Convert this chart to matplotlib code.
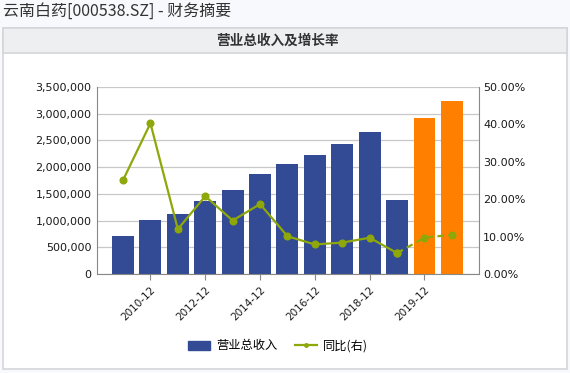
#!/usr/bin/env python3
"""云南白药 营业总收入及增长率 -> out.png"""
import matplotlib
matplotlib.use("Agg")
import matplotlib.pyplot as plt
from matplotlib.patches import Rectangle
from matplotlib.lines import Line2D
from matplotlib.ticker import FuncFormatter
import numpy as np

plt.rcParams["font.family"] = ["DejaVu Sans", "Noto Sans CJK SC"]
CJK = ["Noto Sans CJK SC", "DejaVu Sans"]

periods = ["2009-12", "2010-12", "2011-12", "2012-12", "2013-12", "2014-12", "2015-12",
           "2016-12", "2017-12", "2018-12", "2019-09", "2019-12", "2020-12"]
revenue = [717000, 1010000, 1123000, 1366000, 1578000, 1872000, 2059000,
           2227000, 2433000, 2658000, 1385000, 2920000, 3238000]
growth = [25.1, 40.3, 12.0, 20.8, 14.3, 18.7, 10.1, 7.9, 8.4, 9.7, 5.6, 9.7, 10.5]
forecast = [False] * 11 + [True] * 2
tick_idx = [1, 3, 5, 7, 9, 11]

BLUE = "#334a94"; ORANGE = "#ff8000"; GREEN = "#8ea70a"; GRID = "#c8c8c8"; TXT = "#1a1a1a"

W, H = 570, 373
fig = plt.figure(figsize=(W / 100, H / 100), dpi=100)
fig.patch.set_facecolor("#f7f9fc")

# panel + header band
fig.patches.append(Rectangle((2.5 / W, (H - 369) / H), 564 / W, 341 / H, transform=fig.transFigure,
                             facecolor="white", edgecolor="#d4d6da", lw=1.2, zorder=-2))
fig.patches.append(Rectangle((2.5 / W, (H - 53) / H), 564 / W, 25 / H, transform=fig.transFigure,
                             facecolor="#eeeff1", edgecolor="#d4d6da", lw=1.2, zorder=-1))
fig.text(3 / W, 1 - 11 / H, "云南白药[000538.SZ] - 财务摘要", family=CJK, fontsize=11.5,
         color="#333333", va="center", ha="left")
fig.text(278 / W, 1 - 41 / H, "营业总收入及增长率", family=CJK, fontsize=9.8, fontweight="bold",
         color="#333333", va="center", ha="center")

ax = fig.add_axes([97 / W, (H - 274) / H, (479 - 97) / W, (274 - 87) / H])
ax.set_facecolor("none")
x = np.arange(len(periods))
colors = [ORANGE if f else BLUE for f in forecast]
ax.bar(x, revenue, width=0.8, color=colors, zorder=2)
ax.set_xlim(-0.95, len(periods) - 0.01)
ax.set_ylim(0, 3500000)
ax.set_yticks(np.arange(0, 3500001, 500000))
ax.yaxis.set_major_formatter(FuncFormatter(lambda v, p: f"{int(v):,}"))
ax.grid(axis="y", color=GRID, lw=0.9, zorder=0)
ax.set_axisbelow(True)
ax.set_xticks(tick_idx)
ax.set_xticklabels([periods[i] for i in tick_idx], rotation=45, ha="right",
                   rotation_mode="anchor", fontsize=7.5, color=TXT)
ax.tick_params(axis="y", labelsize=8, colors=TXT, length=0, pad=4)
ax.tick_params(axis="x", length=4, color="#888888")
for s in ("top", "right"):
    ax.spines[s].set_visible(False)
for s in ("left", "bottom"):
    ax.spines[s].set_color("#888888")

ax2 = ax.twinx()
ax2.set_ylim(0, 50)
ax2.set_yticks(np.arange(0, 51, 10))
ax2.yaxis.set_major_formatter(FuncFormatter(lambda v, p: f"{v:.2f}%"))
ax2.tick_params(axis="y", labelsize=8, colors=TXT, length=0, pad=3)
for s in ("top", "left", "bottom"):
    ax2.spines[s].set_visible(False)
ax2.spines["right"].set_color("#888888")
n_act = forecast.index(True)
ax2.plot(x[:n_act], growth[:n_act], "-o", color=GREEN, lw=1.6, ms=4.8, zorder=3)
ax2.plot(x[n_act - 1:], growth[n_act - 1:], "--o", color=GREEN, lw=1.6, ms=4.8, zorder=3,
         dashes=(3, 2))

handles = [Rectangle((0, 0), 1, 1, color=BLUE),
           Line2D([], [], color=GREEN, lw=1.6, marker="o", ms=2.5)]
fig.legend(handles, ["营业总收入", "同比(右)"], loc="center", bbox_to_anchor=(278 / W, 1 - 346 / H),
           ncol=2, frameon=False, prop={"family": CJK, "size": 8.8}, handlelength=1.8,
           handleheight=0.8, columnspacing=1.45, handletextpad=0.5)

fig.savefig("out.png", dpi=100, facecolor=fig.get_facecolor())
